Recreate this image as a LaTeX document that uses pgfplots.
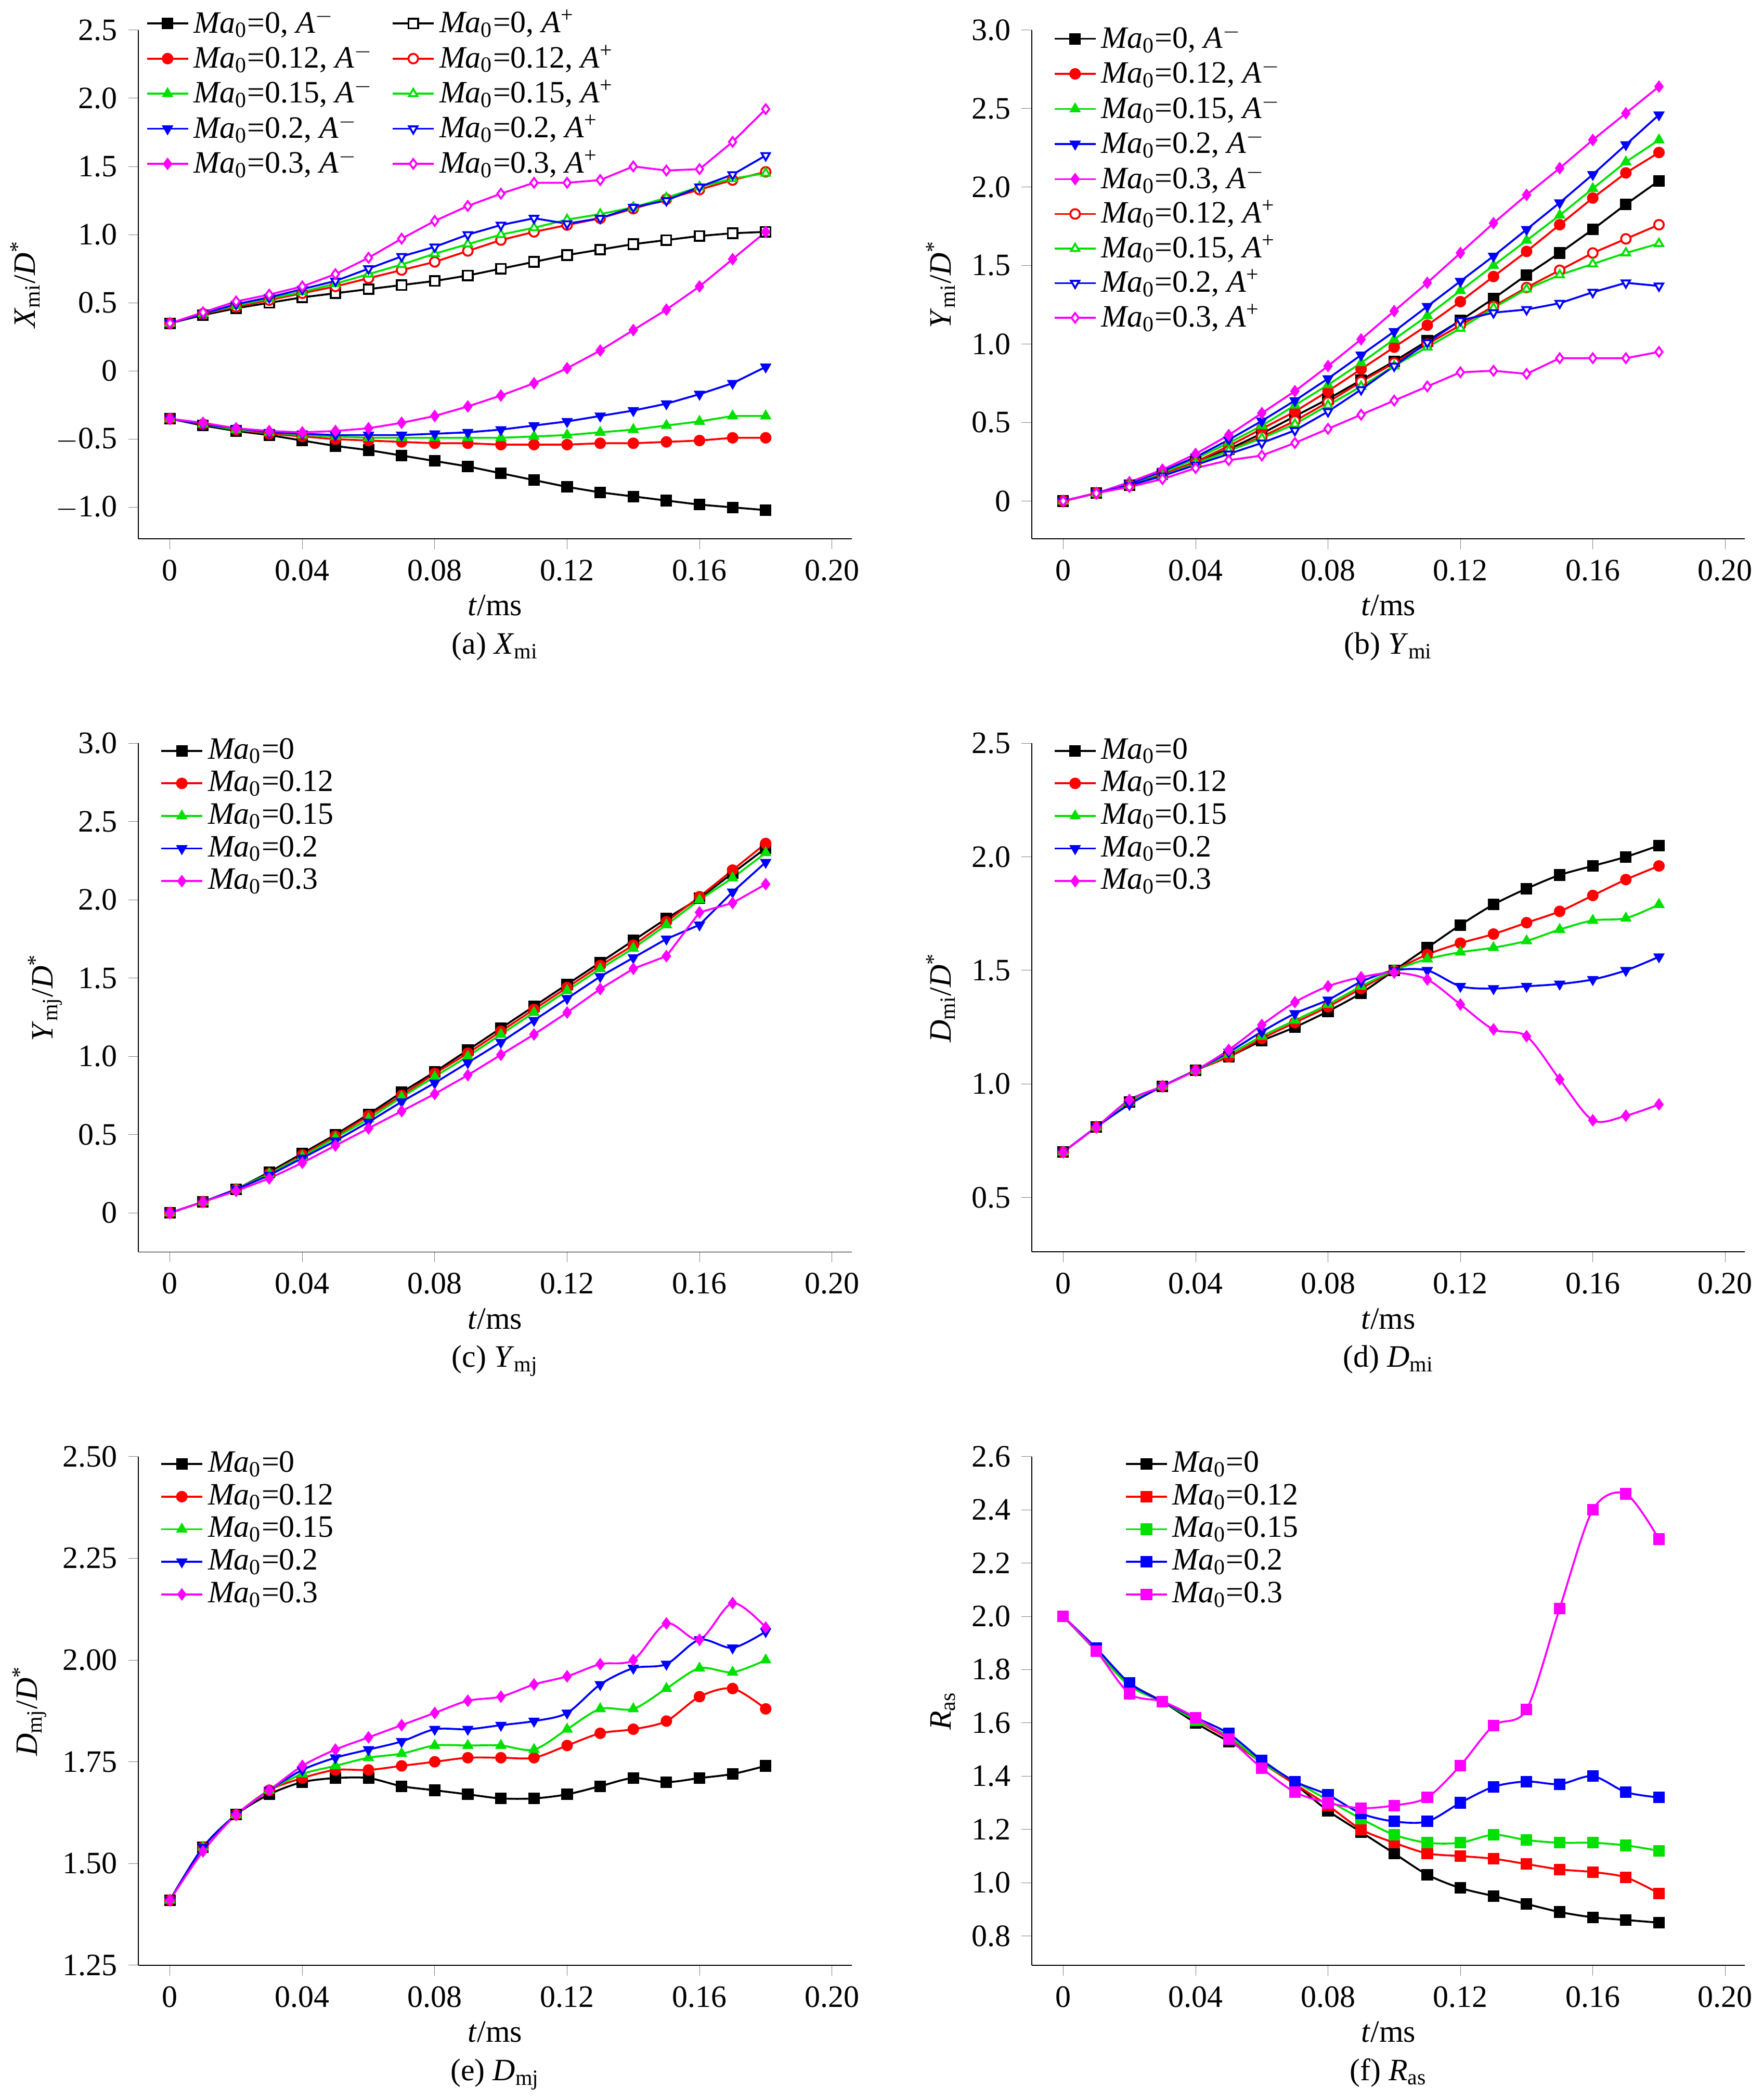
\documentclass[border=0pt]{standalone}
\usepackage{fontspec}
\setmainfont{Liberation Serif}
\usepackage{pgfplots}
\usepackage{pgfplotstable}
\pgfplotsset{compat=1.18}
\usepgfplotslibrary{groupplots}
\definecolor{mgreen}{RGB}{0,225,0}
\definecolor{mmag}{RGB}{255,0,255}
\newcommand{\M}{\textit{Ma}\textsubscript{0}}
\pgfplotstableread{
t a0 a12 a15 a20 a30 p0 p12 p15 p20 p30
0 -0.35 -0.35 -0.35 -0.35 -0.35 0.35 0.35 0.35 0.35 0.35
0.01 -0.40 -0.39 -0.39 -0.39 -0.38 0.41 0.42 0.42 0.42 0.43
0.02 -0.44 -0.43 -0.43 -0.42 -0.42 0.46 0.47 0.48 0.49 0.51
0.03 -0.47 -0.46 -0.45 -0.45 -0.44 0.50 0.52 0.53 0.54 0.56
0.04 -0.51 -0.48 -0.47 -0.46 -0.45 0.54 0.57 0.58 0.60 0.62
0.05 -0.55 -0.50 -0.48 -0.47 -0.44 0.57 0.62 0.64 0.66 0.71
0.06 -0.58 -0.51 -0.49 -0.47 -0.42 0.60 0.68 0.71 0.75 0.83
0.07 -0.62 -0.52 -0.49 -0.47 -0.38 0.63 0.74 0.78 0.84 0.97
0.08 -0.66 -0.53 -0.49 -0.46 -0.33 0.66 0.80 0.86 0.91 1.10
0.09 -0.70 -0.53 -0.49 -0.45 -0.26 0.70 0.88 0.93 1.00 1.21
0.10 -0.75 -0.54 -0.49 -0.43 -0.18 0.75 0.96 1.00 1.07 1.30
0.11 -0.80 -0.54 -0.48 -0.40 -0.09 0.80 1.02 1.05 1.12 1.38
0.12 -0.85 -0.54 -0.47 -0.37 0.02 0.85 1.07 1.11 1.08 1.38
0.13 -0.89 -0.53 -0.45 -0.33 0.15 0.89 1.12 1.15 1.12 1.40
0.14 -0.92 -0.53 -0.43 -0.29 0.30 0.93 1.19 1.20 1.20 1.50
0.15 -0.95 -0.52 -0.40 -0.24 0.45 0.96 1.26 1.27 1.25 1.47
0.16 -0.98 -0.51 -0.37 -0.17 0.62 0.99 1.33 1.35 1.35 1.48
0.17 -1.00 -0.49 -0.33 -0.09 0.82 1.01 1.40 1.41 1.44 1.68
0.18 -1.02 -0.49 -0.33 0.03 1.02 1.02 1.46 1.45 1.58 1.92
}\tA
\pgfplotstableread{
t a0 a12 a15 a20 a30 p12 p15 p20 p30
0 0 0 0 0 0 0 0 0 0
0.01 0.05 0.05 0.05 0.05 0.05 0.05 0.05 0.05 0.05
0.02 0.10 0.10 0.11 0.11 0.12 0.10 0.10 0.10 0.09
0.03 0.17 0.17 0.18 0.19 0.20 0.16 0.16 0.16 0.14
0.04 0.25 0.25 0.27 0.28 0.30 0.24 0.24 0.23 0.21
0.05 0.33 0.35 0.37 0.39 0.42 0.32 0.32 0.30 0.26
0.06 0.43 0.46 0.48 0.51 0.56 0.41 0.40 0.37 0.29
0.07 0.54 0.57 0.61 0.64 0.70 0.51 0.49 0.45 0.37
0.08 0.65 0.70 0.74 0.78 0.86 0.63 0.61 0.57 0.46
0.09 0.77 0.84 0.88 0.93 1.03 0.76 0.73 0.71 0.55
0.10 0.89 0.98 1.03 1.08 1.21 0.88 0.86 0.86 0.64
0.11 1.02 1.12 1.18 1.24 1.39 1.00 0.98 1.01 0.73
0.12 1.15 1.27 1.34 1.40 1.58 1.12 1.10 1.15 0.82
0.13 1.29 1.43 1.50 1.56 1.77 1.24 1.23 1.20 0.83
0.14 1.44 1.59 1.66 1.73 1.95 1.36 1.35 1.22 0.81
0.15 1.58 1.76 1.82 1.90 2.12 1.47 1.44 1.26 0.91
0.16 1.73 1.93 1.99 2.08 2.30 1.58 1.51 1.33 0.91
0.17 1.89 2.09 2.16 2.27 2.47 1.67 1.58 1.39 0.91
0.18 2.04 2.22 2.30 2.46 2.64 1.76 1.64 1.37 0.95
}\tB
\pgfplotstableread{
t a0 a12 a15 a20 a30
0 0 0 0 0 0
0.01 0.07 0.07 0.07 0.07 0.07
0.02 0.15 0.15 0.15 0.15 0.14
0.03 0.26 0.25 0.25 0.24 0.22
0.04 0.38 0.37 0.36 0.35 0.32
0.05 0.50 0.49 0.48 0.46 0.43
0.06 0.63 0.62 0.60 0.58 0.54
0.07 0.77 0.75 0.74 0.71 0.65
0.08 0.90 0.89 0.87 0.83 0.76
0.09 1.04 1.02 1.00 0.96 0.88
0.10 1.18 1.16 1.14 1.09 1.01
0.11 1.32 1.30 1.28 1.23 1.14
0.12 1.46 1.44 1.42 1.37 1.28
0.13 1.60 1.58 1.56 1.51 1.43
0.14 1.74 1.71 1.69 1.63 1.56
0.15 1.88 1.86 1.84 1.75 1.64
0.16 2.01 2.02 2.00 1.84 1.92
0.17 2.17 2.19 2.14 2.05 1.98
0.18 2.33 2.36 2.30 2.24 2.10
}\tC
\pgfplotstableread{
t a0 a12 a15 a20 a30
0 0.70 0.70 0.70 0.70 0.70
0.01 0.81 0.81 0.81 0.81 0.81
0.02 0.92 0.92 0.92 0.91 0.93
0.03 0.99 0.99 0.99 0.99 0.99
0.04 1.06 1.06 1.06 1.06 1.06
0.05 1.12 1.12 1.13 1.14 1.15
0.06 1.19 1.20 1.21 1.23 1.26
0.07 1.25 1.27 1.28 1.31 1.36
0.08 1.32 1.34 1.35 1.37 1.43
0.09 1.40 1.42 1.43 1.45 1.47
0.10 1.50 1.50 1.50 1.50 1.49
0.11 1.60 1.57 1.55 1.50 1.46
0.12 1.70 1.62 1.58 1.43 1.35
0.13 1.79 1.66 1.60 1.42 1.24
0.14 1.86 1.71 1.63 1.43 1.21
0.15 1.92 1.76 1.68 1.44 1.02
0.16 1.96 1.83 1.72 1.46 0.84
0.17 2.00 1.90 1.73 1.50 0.86
0.18 2.05 1.96 1.79 1.56 0.91
}\tD
\pgfplotstableread{
t a0 a12 a15 a20 a30
0 1.41 1.41 1.41 1.41 1.41
0.01 1.54 1.54 1.54 1.54 1.53
0.02 1.62 1.62 1.62 1.62 1.62
0.03 1.67 1.68 1.68 1.68 1.68
0.04 1.70 1.71 1.72 1.73 1.74
0.05 1.71 1.73 1.74 1.76 1.78
0.06 1.71 1.73 1.76 1.78 1.81
0.07 1.69 1.74 1.77 1.80 1.84
0.08 1.68 1.75 1.79 1.83 1.87
0.09 1.67 1.76 1.79 1.83 1.90
0.10 1.66 1.76 1.79 1.84 1.91
0.11 1.66 1.76 1.78 1.85 1.94
0.12 1.67 1.79 1.83 1.87 1.96
0.13 1.69 1.82 1.88 1.94 1.99
0.14 1.71 1.83 1.88 1.98 2.00
0.15 1.70 1.85 1.93 1.99 2.09
0.16 1.71 1.91 1.98 2.05 2.05
0.17 1.72 1.93 1.97 2.03 2.14
0.18 1.74 1.88 2.00 2.07 2.08
}\tE
\pgfplotstableread{
t a0 a12 a15 a20 a30
0 2.00 2.00 2.00 2.00 2.00
0.01 1.87 1.87 1.87 1.88 1.87
0.02 1.75 1.74 1.74 1.75 1.71
0.03 1.68 1.68 1.68 1.68 1.68
0.04 1.60 1.61 1.61 1.62 1.62
0.05 1.53 1.54 1.55 1.56 1.54
0.06 1.46 1.45 1.45 1.46 1.43
0.07 1.37 1.37 1.38 1.38 1.34
0.08 1.27 1.29 1.31 1.33 1.30
0.09 1.19 1.20 1.24 1.26 1.28
0.10 1.11 1.15 1.18 1.23 1.29
0.11 1.03 1.11 1.15 1.23 1.32
0.12 0.98 1.10 1.15 1.30 1.44
0.13 0.95 1.09 1.18 1.36 1.59
0.14 0.92 1.07 1.16 1.38 1.65
0.15 0.89 1.05 1.15 1.37 2.03
0.16 0.87 1.04 1.15 1.40 2.40
0.17 0.86 1.02 1.14 1.34 2.46
0.18 0.85 0.96 1.12 1.32 2.29
}\tF
\pgfplotsset{
 s0/.style={black,mark=square*},
 s1/.style={red,mark=*},
 s2/.style={mgreen,mark=triangle*},
 s3/.style={blue,mark=triangle*,mark options={rotate=180}},
 s4/.style={mmag,mark=diamond*},
 op/.style={mark options={fill=white}},
 opd/.style={mark options={fill=white,rotate=180}},
}
\begin{document}
\fontsize{13}{15}\selectfont
\begin{tikzpicture}
\begin{groupplot}[group style={group size=2 by 3, horizontal sep=26.4mm, vertical sep=30mm},
 width=104.6mm, height=74.6mm, scale only axis,
 axis x line*=bottom, axis y line*=left, tick align=outside,
 xmin=-0.0095, xmax=0.206,
 xtick={0,0.04,0.08,0.12,0.16,0.20}, xticklabels={0,0.04,0.08,0.12,0.16,0.20},
 /pgf/number format/assume math mode=true,
 xlabel style={align=center, yshift=3pt},
 every axis plot/.append style={line width=0.8pt, mark size=2pt},
 legend style={draw=none, fill=none, at={(0.02,1.03)}, anchor=north west, row sep=-1pt, font=\fontsize{13}{13}\selectfont},
 legend cell align=left,
 ylabel style={yshift=-2pt},
]
\nextgroupplot[ymin=-1.23, ymax=2.5, ytick={-1,-0.5,0,0.5,1,1.5,2,2.5},
 yticklabels={$-$1.0,$-$0.5,0,0.5,1.0,1.5,2.0,2.5},
 ylabel={\textit{X}\textsubscript{mi}/\textit{D}\textsuperscript{*}},
 xlabel={\textit{t}/ms\\[1pt](a) \textit{X}\textsubscript{mi}}, legend columns=2,
 legend style={at={(0.0,1.06)}, /tikz/every even column/.append style={column sep=6pt}}]
\addplot[s0] table[y=a0]{\tA}; \addlegendentry{\M=0, \textit{A}\textsuperscript{$-$}}
\addplot[s0,op] table[y=p0]{\tA}; \addlegendentry{\M=0, \textit{A}\textsuperscript{+}}
\addplot[s1] table[y=a12]{\tA}; \addlegendentry{\M=0.12, \textit{A}\textsuperscript{$-$}}
\addplot[s1,op] table[y=p12]{\tA}; \addlegendentry{\M=0.12, \textit{A}\textsuperscript{+}}
\addplot[s2] table[y=a15]{\tA}; \addlegendentry{\M=0.15, \textit{A}\textsuperscript{$-$}}
\addplot[s2,op] table[y=p15]{\tA}; \addlegendentry{\M=0.15, \textit{A}\textsuperscript{+}}
\addplot[s3] table[y=a20]{\tA}; \addlegendentry{\M=0.2, \textit{A}\textsuperscript{$-$}}
\addplot[s3,opd] table[y=p20]{\tA}; \addlegendentry{\M=0.2, \textit{A}\textsuperscript{+}}
\addplot[s4] table[y=a30]{\tA}; \addlegendentry{\M=0.3, \textit{A}\textsuperscript{$-$}}
\addplot[s4,op] table[y=p30]{\tA}; \addlegendentry{\M=0.3, \textit{A}\textsuperscript{+}}
\nextgroupplot[ymin=-0.24, ymax=3.0, ytick={0,0.5,1,1.5,2,2.5,3},
 yticklabels={0,0.5,1.0,1.5,2.0,2.5,3.0},
 ylabel={\textit{Y}\textsubscript{mi}/\textit{D}\textsuperscript{*}},
 xlabel={\textit{t}/ms\\[1pt](b) \textit{Y}\textsubscript{mi}}]
\addplot[s0] table[y=a0]{\tB}; \addlegendentry{\M=0, \textit{A}\textsuperscript{$-$}}
\addplot[s1] table[y=a12]{\tB}; \addlegendentry{\M=0.12, \textit{A}\textsuperscript{$-$}}
\addplot[s2] table[y=a15]{\tB}; \addlegendentry{\M=0.15, \textit{A}\textsuperscript{$-$}}
\addplot[s3] table[y=a20]{\tB}; \addlegendentry{\M=0.2, \textit{A}\textsuperscript{$-$}}
\addplot[s4] table[y=a30]{\tB}; \addlegendentry{\M=0.3, \textit{A}\textsuperscript{$-$}}
\addplot[s1,op] table[y=p12]{\tB}; \addlegendentry{\M=0.12, \textit{A}\textsuperscript{+}}
\addplot[s2,op] table[y=p15]{\tB}; \addlegendentry{\M=0.15, \textit{A}\textsuperscript{+}}
\addplot[s3,opd] table[y=p20]{\tB}; \addlegendentry{\M=0.2, \textit{A}\textsuperscript{+}}
\addplot[s4,op] table[y=p30]{\tB}; \addlegendentry{\M=0.3, \textit{A}\textsuperscript{+}}
\nextgroupplot[ymin=-0.25, ymax=3.0, ytick={0,0.5,1,1.5,2,2.5,3},
 yticklabels={0,0.5,1.0,1.5,2.0,2.5,3.0},
 ylabel={\textit{Y}\textsubscript{mj}/\textit{D}\textsuperscript{*}},
 xlabel={\textit{t}/ms\\[1pt](c) \textit{Y}\textsubscript{mj}}]
\addplot[s0] table[y=a0]{\tC}; \addlegendentry{\M=0}
\addplot[s1] table[y=a12]{\tC}; \addlegendentry{\M=0.12}
\addplot[s2] table[y=a15]{\tC}; \addlegendentry{\M=0.15}
\addplot[s3] table[y=a20]{\tC}; \addlegendentry{\M=0.2}
\addplot[s4] table[y=a30]{\tC}; \addlegendentry{\M=0.3}
\nextgroupplot[ymin=0.26, ymax=2.5, ytick={0.5,1,1.5,2,2.5},
 yticklabels={0.5,1.0,1.5,2.0,2.5},
 ylabel={\textit{D}\textsubscript{mi}/\textit{D}\textsuperscript{*}},
 xlabel={\textit{t}/ms\\[1pt](d) \textit{D}\textsubscript{mi}}]
\addplot[s0,smooth] table[y=a0]{\tD}; \addlegendentry{\M=0}
\addplot[s1,smooth] table[y=a12]{\tD}; \addlegendentry{\M=0.12}
\addplot[s2,smooth] table[y=a15]{\tD}; \addlegendentry{\M=0.15}
\addplot[s3,smooth] table[y=a20]{\tD}; \addlegendentry{\M=0.2}
\addplot[s4,smooth] table[y=a30]{\tD}; \addlegendentry{\M=0.3}
\nextgroupplot[ymin=1.25, ymax=2.5, ytick={1.25,1.5,1.75,2,2.25,2.5},
 yticklabels={1.25,1.50,1.75,2.00,2.25,2.50},
 ylabel={\textit{D}\textsubscript{mj}/\textit{D}\textsuperscript{*}},
 xlabel={\textit{t}/ms\\[1pt](e) \textit{D}\textsubscript{mj}}]
\addplot[s0,smooth] table[y=a0]{\tE}; \addlegendentry{\M=0}
\addplot[s1,smooth] table[y=a12]{\tE}; \addlegendentry{\M=0.12}
\addplot[s2,smooth] table[y=a15]{\tE}; \addlegendentry{\M=0.15}
\addplot[s3,smooth] table[y=a20]{\tE}; \addlegendentry{\M=0.2}
\addplot[s4,smooth] table[y=a30]{\tE}; \addlegendentry{\M=0.3}
\nextgroupplot[ymin=0.69, ymax=2.6, ytick={0.8,1,1.2,1.4,1.6,1.8,2,2.2,2.4,2.6},
 yticklabels={0.8,1.0,1.2,1.4,1.6,1.8,2.0,2.2,2.4,2.6},
 ylabel={\textit{R}\textsubscript{as}},
 xlabel={\textit{t}/ms\\[1pt](f) \textit{R}\textsubscript{as}},
 legend style={at={(0.12,1.03)}}]
\addplot[s0,smooth,mark=square*] table[y=a0]{\tF}; \addlegendentry{\M=0}
\addplot[s1,smooth,mark=square*] table[y=a12]{\tF}; \addlegendentry{\M=0.12}
\addplot[s2,smooth,mark=square*] table[y=a15]{\tF}; \addlegendentry{\M=0.15}
\addplot[s3,smooth,mark=square*,mark options={rotate=0}] table[y=a20]{\tF}; \addlegendentry{\M=0.2}
\addplot[s4,smooth,mark=square*] table[y=a30]{\tF}; \addlegendentry{\M=0.3}
\end{groupplot}
\end{tikzpicture}
\end{document}
